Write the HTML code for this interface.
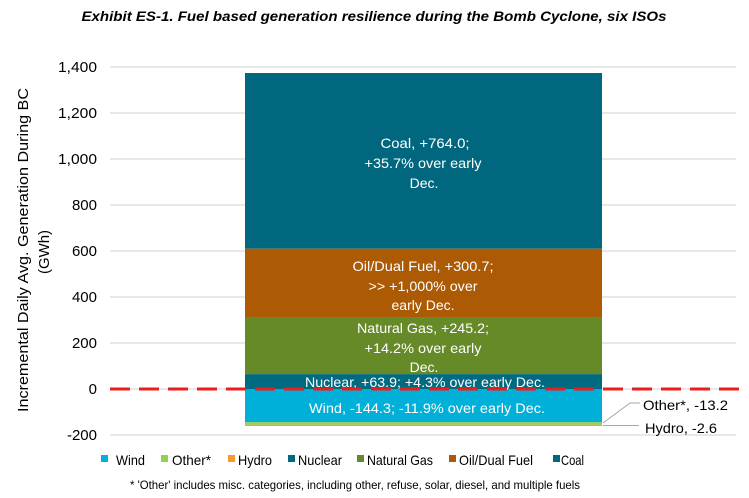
<!DOCTYPE html>
<html><head><meta charset="utf-8"><style>
html,body{margin:0;padding:0;background:#fff;}
svg{display:block;}
text{font-family:"Liberation Sans",sans-serif;}
</style></head><body>
<svg width="749" height="498" viewBox="0 0 749 498" xmlns="http://www.w3.org/2000/svg">
<rect width="749" height="498" fill="#fff"/>
<text x="374" y="21" text-anchor="middle" font-size="14" font-weight="bold" font-style="italic" fill="#000" textLength="585" lengthAdjust="spacingAndGlyphs">Exhibit ES-1. Fuel based generation resilience during the Bomb Cyclone, six ISOs</text>
<g stroke="#d9d9d9" stroke-width="1.3">
<line x1="110" y1="67" x2="736" y2="67"/>
<line x1="110" y1="113" x2="736" y2="113"/>
<line x1="110" y1="159" x2="736" y2="159"/>
<line x1="110" y1="205" x2="736" y2="205"/>
<line x1="110" y1="251" x2="736" y2="251"/>
<line x1="110" y1="297" x2="736" y2="297"/>
<line x1="110" y1="343" x2="736" y2="343"/>
<line x1="110" y1="389" x2="736" y2="389"/>
<line x1="110" y1="435" x2="736" y2="435"/>
</g>
<g font-size="15" fill="#000" text-anchor="end">
<text x="97" y="72" textLength="39" lengthAdjust="spacingAndGlyphs">1,400</text>
<text x="97" y="118" textLength="39" lengthAdjust="spacingAndGlyphs">1,200</text>
<text x="97" y="164" textLength="39" lengthAdjust="spacingAndGlyphs">1,000</text>
<text x="97" y="210">800</text>
<text x="97" y="256">600</text>
<text x="97" y="302">400</text>
<text x="97" y="348">200</text>
<text x="97" y="394">0</text>
<text x="97" y="440">-200</text>
</g>
<g font-size="15" fill="#000" text-anchor="middle">
<text transform="translate(28,250) rotate(-90)" textLength="324" lengthAdjust="spacingAndGlyphs">Incremental Daily Avg. Generation During BC</text>
<text transform="translate(49,252) rotate(-90)" textLength="44" lengthAdjust="spacingAndGlyphs">(GWh)</text>
</g>
<!-- bar -->
<rect x="245" y="73" width="357" height="175.7" fill="#00677f"/>
<rect x="245" y="248.7" width="357" height="69.2" fill="#ad5a05"/>
<rect x="245" y="317.9" width="357" height="56.4" fill="#658a27"/>
<rect x="245" y="374.3" width="357" height="14.7" fill="#006a80"/>
<rect x="245" y="389" width="357" height="33.2" fill="#00b0d8"/>
<rect x="245" y="422.2" width="357" height="2.6" fill="#92d050"/>
<rect x="245" y="424.8" width="357" height="1.2" fill="#e8a23a"/>
<g font-size="14" fill="#fff" text-anchor="middle">
<text x="425" y="148" textLength="89" lengthAdjust="spacingAndGlyphs">Coal, +764.0;</text>
<text x="423" y="168" textLength="117" lengthAdjust="spacingAndGlyphs">+35.7% over early</text>
<text x="424" y="188">Dec.</text>
<text x="423" y="271" textLength="141" lengthAdjust="spacingAndGlyphs">Oil/Dual Fuel, +300.7;</text>
<text x="423" y="291" textLength="109" lengthAdjust="spacingAndGlyphs">&gt;&gt; +1,000% over</text>
<text x="423" y="310" textLength="63" lengthAdjust="spacingAndGlyphs">early Dec.</text>
<text x="423" y="333" textLength="132" lengthAdjust="spacingAndGlyphs">Natural Gas, +245.2;</text>
<text x="423" y="353" textLength="117" lengthAdjust="spacingAndGlyphs">+14.2% over early</text>
<text x="424" y="372">Dec.</text>
</g>
<rect x="245" y="374.3" width="357" height="14.7" fill="#006a80"/>
<text x="425" y="387" font-size="14" fill="#fff" text-anchor="middle" textLength="240" lengthAdjust="spacingAndGlyphs">Nuclear, +63.9; +4.3% over early Dec.</text>
<text x="427" y="413" font-size="14" fill="#fff" text-anchor="middle" textLength="236" lengthAdjust="spacingAndGlyphs">Wind, -144.3; -11.9% over early Dec.</text>
<line x1="110" y1="389" x2="740" y2="389" stroke="#ee1c1c" stroke-width="3" stroke-dasharray="20,9"/>
<!-- leaders -->
<polyline points="603,423 630,403 640,403" fill="none" stroke="#a6a6a6" stroke-width="1"/>
<line x1="603" y1="425.5" x2="639" y2="425.5" stroke="#a6a6a6" stroke-width="1"/>
<text x="643" y="410" font-size="14" fill="#000" textLength="85" lengthAdjust="spacingAndGlyphs">Other*, -13.2</text>
<text x="645" y="433" font-size="14" fill="#000" textLength="72" lengthAdjust="spacingAndGlyphs">Hydro, -2.6</text>
<!-- legend -->
<g font-size="14" fill="#000">
<rect x="101" y="455" width="7" height="7" fill="#00b0d8"/><text x="116" y="465" textLength="29" lengthAdjust="spacingAndGlyphs">Wind</text>
<rect x="161" y="455" width="7" height="7" fill="#92d050"/><text x="172" y="465" textLength="39" lengthAdjust="spacingAndGlyphs">Other*</text>
<rect x="228" y="455" width="7" height="7" fill="#f79a2e"/><text x="238" y="465" textLength="34" lengthAdjust="spacingAndGlyphs">Hydro</text>
<rect x="288" y="455" width="7" height="7" fill="#006a80"/><text x="298" y="465" textLength="44" lengthAdjust="spacingAndGlyphs">Nuclear</text>
<rect x="357" y="455" width="7" height="7" fill="#658a27"/><text x="367" y="465" textLength="66" lengthAdjust="spacingAndGlyphs">Natural Gas</text>
<rect x="449" y="455" width="7" height="7" fill="#ad5a05"/><text x="459" y="465" textLength="74" lengthAdjust="spacingAndGlyphs">Oil/Dual Fuel</text>
<rect x="553" y="455" width="7" height="7" fill="#00677f"/><text x="561" y="465" textLength="23" lengthAdjust="spacingAndGlyphs">Coal</text>
</g>
<text x="130" y="489" font-size="12" fill="#000" textLength="450" lengthAdjust="spacingAndGlyphs">* 'Other' includes misc. categories, including other, refuse, solar, diesel, and multiple fuels</text>
</svg>
</body></html>
